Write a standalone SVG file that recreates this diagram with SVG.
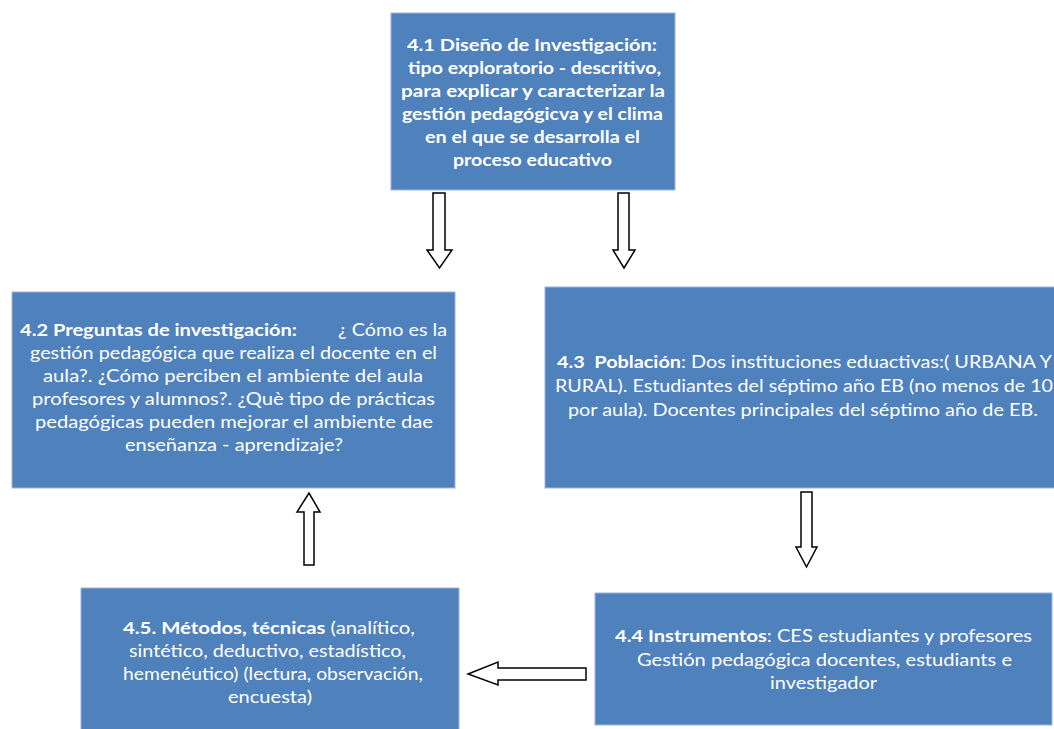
<svg xmlns="http://www.w3.org/2000/svg" width="1054" height="729" viewBox="0 0 1054 729">
<style>
.box{fill:#4F81BD;stroke:#9DB6D8;stroke-width:1}
.t{font-family:Lato,"Liberation Sans",sans-serif;font-size:17px;fill:#FFFFFF}
.b{font-weight:bold}
.arr{fill:#FFFFFF;stroke:#000000;stroke-width:1.5;stroke-linejoin:miter}
</style>
<rect width="1054" height="729" fill="#FFFFFF"/>
<g id="n41">
<rect class="box" x="391" y="13" width="284" height="177"/>
<text class="t b" x="407" y="51" textLength="250" lengthAdjust="spacingAndGlyphs">4.1 Diseño de Investigación:</text>
<text class="t b" x="408" y="74" textLength="253" lengthAdjust="spacingAndGlyphs">tipo exploratorio - descritivo,</text>
<text class="t b" x="401" y="97" textLength="264" lengthAdjust="spacingAndGlyphs">para explicar y caracterizar la</text>
<text class="t b" x="402" y="120" textLength="261" lengthAdjust="spacingAndGlyphs">gestión pedagógicva y el clima</text>
<text class="t b" x="425" y="143" textLength="215" lengthAdjust="spacingAndGlyphs">en el que se desarrolla el</text>
<text class="t b" x="453" y="166" textLength="159" lengthAdjust="spacingAndGlyphs">proceso educativo</text>
</g>
<g id="n42">
<rect class="box" x="12" y="292" width="443" height="196"/>
<text class="t b" x="20" y="336" textLength="277" lengthAdjust="spacingAndGlyphs">4.2 Preguntas de investigación:</text>
<text class="t" x="338" y="336" textLength="109" lengthAdjust="spacingAndGlyphs">¿ Cómo es la</text>
<text class="t" x="30" y="359" textLength="407" lengthAdjust="spacingAndGlyphs">gestión pedagógica que realiza el docente en el</text>
<text class="t" x="43" y="382" textLength="380" lengthAdjust="spacingAndGlyphs">aula?. ¿Cómo perciben el ambiente del aula</text>
<text class="t" x="32" y="405" textLength="403" lengthAdjust="spacingAndGlyphs">profesores y alumnos?. ¿Què tipo de prácticas</text>
<text class="t" x="35" y="428" textLength="398" lengthAdjust="spacingAndGlyphs">pedagógicas pueden mejorar el ambiente dae</text>
<text class="t" x="125" y="451" textLength="218" lengthAdjust="spacingAndGlyphs">enseñanza - aprendizaje?</text>
</g>
<g id="n43">
<rect class="box" x="545" y="287" width="520" height="201"/>
<text class="t" x="557" y="368" textLength="495" lengthAdjust="spacingAndGlyphs"><tspan class="b">4.3&#160; Población</tspan>: Dos instituciones eduactivas:( URBANA Y</text>
<text class="t" x="555" y="392" textLength="498" lengthAdjust="spacingAndGlyphs">RURAL). Estudiantes del séptimo año EB (no menos de 10</text>
<text class="t" x="568" y="416" textLength="470" lengthAdjust="spacingAndGlyphs">por aula). Docentes principales del séptimo año de EB.</text>
</g>
<g id="n44">
<rect class="box" x="595" y="593" width="457" height="132"/>
<text class="t" x="615" y="642" textLength="417" lengthAdjust="spacingAndGlyphs"><tspan class="b">4.4 Instrumentos</tspan>: CES estudiantes y profesores</text>
<text class="t" x="637" y="666" textLength="375" lengthAdjust="spacingAndGlyphs">Gestión pedagógica docentes, estudiants e</text>
<text class="t" x="770" y="689" textLength="107" lengthAdjust="spacingAndGlyphs">investigador</text>
</g>
<g id="n45">
<rect class="box" x="81" y="588" width="378" height="150"/>
<text class="t" x="123" y="634" textLength="292" lengthAdjust="spacingAndGlyphs"><tspan class="b">4.5. Métodos, técnicas</tspan> (analítico,</text>
<text class="t" x="129" y="657" textLength="277" lengthAdjust="spacingAndGlyphs">sintético, deductivo, estadístico,</text>
<text class="t" x="123" y="680" textLength="300" lengthAdjust="spacingAndGlyphs">hemenéutico) (lectura, observación,</text>
<text class="t" x="228" y="703" textLength="84" lengthAdjust="spacingAndGlyphs">encuesta)</text>
</g>
<g id="connectors">
<polygon class="arr" points="433,193 445,193 445,250 452,250 439.5,268 427,250 433,250"/>
<polygon class="arr" points="618,193 629,193 629,250 635,250 624,268 613,250 618,250"/>
<polygon class="arr" points="304,565 314,565 314,512 320,512 309,493 297,512 304,512"/>
<polygon class="arr" points="801,492 812,492 812,547 817,547 806.5,567 796,547 801,547"/>
<polygon class="arr" points="586,668 586,680 498,680 498,685 468,674 498,662 498,668"/>
</g>
</svg>
